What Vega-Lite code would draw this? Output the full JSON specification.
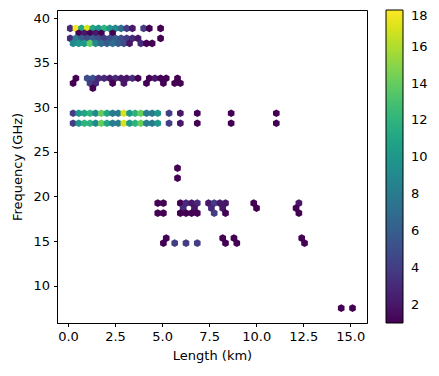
{
  "$schema": "https://vega.github.io/schema/vega-lite/v6.json",
  "autosize": {"type": "none"},
  "padding": {"left": 57, "top": 10, "right": 72, "bottom": 53},
  "width": 310,
  "height": 313,
  "config": {
    "view": {"stroke": "black", "strokeWidth": 1},
    "font": "DejaVu Sans",
    "axis": {"grid": false, "domainColor": "black", "tickColor": "black", "labelColor": "black", "titleColor": "black", "tickSize": 3.5, "labelFontSize": 13, "titleFontSize": 13, "titleFontWeight": "normal", "labelFont": "DejaVu Sans", "titleFont": "DejaVu Sans"},
    "legend": {"labelFont": "DejaVu Sans", "labelFontSize": 13, "labelColor": "black"}
  },
  "data": {"values": [
    {"x":0.12,"y":38.85,"n":3},{"x":0.42,"y":38.85,"n":18},{"x":0.72,"y":38.85,"n":11},{"x":1.02,"y":38.85,"n":17},{"x":1.32,"y":38.85,"n":11},{"x":1.62,"y":38.85,"n":10},{"x":1.92,"y":38.85,"n":12},{"x":2.22,"y":38.85,"n":10},{"x":2.52,"y":38.85,"n":9},{"x":2.82,"y":38.85,"n":7},{"x":3.12,"y":38.85,"n":4},{"x":3.42,"y":38.85,"n":2},{"x":4.02,"y":38.85,"n":4},{"x":4.32,"y":38.85,"n":1},{"x":4.92,"y":38.85,"n":1},
    {"x":0.57,"y":38.29,"n":1},{"x":0.87,"y":38.29,"n":2},{"x":1.17,"y":38.29,"n":1},{"x":1.47,"y":38.29,"n":2},{"x":1.77,"y":38.29,"n":1},{"x":2.37,"y":38.29,"n":1},
    {"x":0.12,"y":37.73,"n":3},{"x":0.42,"y":37.73,"n":8},{"x":0.72,"y":37.73,"n":6},{"x":1.02,"y":37.73,"n":5},{"x":1.32,"y":37.73,"n":6},{"x":1.62,"y":37.73,"n":5},{"x":1.92,"y":37.73,"n":4},{"x":2.22,"y":37.73,"n":5},{"x":2.52,"y":37.73,"n":6},{"x":2.82,"y":37.73,"n":5},{"x":3.12,"y":37.73,"n":4},{"x":3.42,"y":37.73,"n":3},{"x":3.72,"y":37.73,"n":2},{"x":4.92,"y":37.73,"n":1},
    {"x":0.27,"y":37.17,"n":9},{"x":0.57,"y":37.17,"n":10},{"x":0.87,"y":37.17,"n":10},{"x":1.17,"y":37.17,"n":14},{"x":1.47,"y":37.17,"n":9},{"x":1.77,"y":37.17,"n":7},{"x":2.07,"y":37.17,"n":6},{"x":2.37,"y":37.17,"n":7},{"x":2.67,"y":37.17,"n":6},{"x":2.97,"y":37.17,"n":5},{"x":3.27,"y":37.17,"n":2},{"x":3.87,"y":37.17,"n":3},{"x":4.17,"y":37.17,"n":1},{"x":4.47,"y":37.17,"n":1},
    {"x":0.42,"y":33.25,"n":1},{"x":1.02,"y":33.25,"n":5},{"x":1.32,"y":33.25,"n":5},{"x":1.62,"y":33.25,"n":3},{"x":1.92,"y":33.25,"n":3},{"x":2.22,"y":33.25,"n":2},{"x":2.52,"y":33.25,"n":3},{"x":2.82,"y":33.25,"n":2},{"x":3.12,"y":33.25,"n":2},{"x":3.42,"y":33.25,"n":3},{"x":3.72,"y":33.25,"n":1},{"x":4.32,"y":33.25,"n":1},{"x":4.62,"y":33.25,"n":2},{"x":4.92,"y":33.25,"n":1},{"x":5.22,"y":33.25,"n":1},{"x":5.82,"y":33.25,"n":1},
    {"x":0.27,"y":32.69,"n":1},{"x":1.17,"y":32.69,"n":4},{"x":1.47,"y":32.69,"n":3},{"x":2.37,"y":32.69,"n":1},{"x":2.97,"y":32.69,"n":2},{"x":4.17,"y":32.69,"n":1},{"x":5.07,"y":32.69,"n":1},{"x":5.67,"y":32.69,"n":1},{"x":5.97,"y":32.69,"n":1},
    {"x":1.32,"y":32.13,"n":1},
    {"x":0.27,"y":29.33,"n":4},{"x":0.57,"y":29.33,"n":10},{"x":0.87,"y":29.33,"n":11},{"x":1.17,"y":29.33,"n":12},{"x":1.47,"y":29.33,"n":9},{"x":1.77,"y":29.33,"n":14},{"x":2.07,"y":29.33,"n":11},{"x":2.37,"y":29.33,"n":8},{"x":2.67,"y":29.33,"n":8},{"x":2.97,"y":29.33,"n":17},{"x":3.27,"y":29.33,"n":10},{"x":3.57,"y":29.33,"n":12},{"x":3.87,"y":29.33,"n":14},{"x":4.17,"y":29.33,"n":8},{"x":4.47,"y":29.33,"n":8},{"x":4.77,"y":29.33,"n":10},{"x":5.37,"y":29.33,"n":4},{"x":5.97,"y":29.33,"n":2},{"x":6.87,"y":29.33,"n":1},{"x":8.67,"y":29.33,"n":1},{"x":11.07,"y":29.33,"n":1},
    {"x":0.27,"y":28.21,"n":4},{"x":0.57,"y":28.21,"n":10},{"x":0.87,"y":28.21,"n":12},{"x":1.17,"y":28.21,"n":12},{"x":1.47,"y":28.21,"n":9},{"x":1.77,"y":28.21,"n":14},{"x":2.07,"y":28.21,"n":11},{"x":2.37,"y":28.21,"n":8},{"x":2.67,"y":28.21,"n":8},{"x":2.97,"y":28.21,"n":17},{"x":3.27,"y":28.21,"n":10},{"x":3.57,"y":28.21,"n":12},{"x":3.87,"y":28.21,"n":14},{"x":4.17,"y":28.21,"n":8},{"x":4.47,"y":28.21,"n":8},{"x":4.77,"y":28.21,"n":10},{"x":5.37,"y":28.21,"n":4},{"x":5.97,"y":28.21,"n":2},{"x":6.87,"y":28.21,"n":1},{"x":8.67,"y":28.21,"n":1},{"x":11.07,"y":28.21,"n":1},
    {"x":5.82,"y":23.17,"n":1},{"x":5.82,"y":22.05,"n":1},
    {"x":4.77,"y":19.25,"n":1},{"x":5.07,"y":19.25,"n":1},{"x":5.97,"y":19.25,"n":1},{"x":6.27,"y":19.25,"n":3},{"x":6.57,"y":19.25,"n":2},{"x":6.87,"y":19.25,"n":3},{"x":7.47,"y":19.25,"n":2},{"x":7.77,"y":19.25,"n":4},{"x":8.07,"y":19.25,"n":2},{"x":8.37,"y":19.25,"n":2},{"x":9.87,"y":19.25,"n":1},{"x":12.27,"y":19.25,"n":2},
    {"x":6.12,"y":18.69,"n":3},{"x":6.72,"y":18.69,"n":2},{"x":7.62,"y":18.69,"n":3},{"x":8.22,"y":18.69,"n":2},{"x":10.02,"y":18.69,"n":1},{"x":12.12,"y":18.69,"n":1},
    {"x":4.77,"y":18.13,"n":1},{"x":5.07,"y":18.13,"n":1},{"x":5.97,"y":18.13,"n":1},{"x":6.27,"y":18.13,"n":1},{"x":6.57,"y":18.13,"n":1},{"x":6.87,"y":18.13,"n":1},{"x":7.77,"y":18.13,"n":4},{"x":8.37,"y":18.13,"n":1},{"x":12.27,"y":18.13,"n":1},
    {"x":5.22,"y":15.33,"n":1},{"x":8.22,"y":15.33,"n":1},{"x":8.82,"y":15.33,"n":1},{"x":12.42,"y":15.33,"n":1},
    {"x":5.07,"y":14.77,"n":1},{"x":5.67,"y":14.77,"n":4},{"x":6.27,"y":14.77,"n":4},{"x":6.87,"y":14.77,"n":4},{"x":8.37,"y":14.77,"n":1},{"x":8.97,"y":14.77,"n":1},{"x":12.57,"y":14.77,"n":1},
    {"x":14.52,"y":7.49,"n":1},{"x":15.12,"y":7.49,"n":1}
  ]},
  "mark": {"type": "point", "filled": true, "opacity": 1, "size": 100, "shape": "M0,-0.77L0.664,-0.42L0.664,0.42L0,0.77L-0.664,0.42L-0.664,-0.42Z"},
  "encoding": {
    "x": {"field": "x", "type": "quantitative", "scale": {"domain": [-0.585, 15.89], "nice": false, "zero": false}, "axis": {"values": [0, 2.5, 5, 7.5, 10, 12.5, 15], "format": ".1f", "title": "Length (km)", "labelPadding": 4, "titlePadding": 6}},
    "y": {"field": "y", "type": "quantitative", "scale": {"domain": [5.82, 40.9], "nice": false, "zero": false}, "axis": {"values": [10, 15, 20, 25, 30, 35, 40], "title": "Frequency (GHz)", "labelPadding": 4, "titlePadding": 8}},
    "color": {"field": "n", "type": "quantitative", "scale": {"scheme": "viridis", "domain": [1, 18]}, "legend": {"orient": "none", "legendX": 329, "legendY": 0, "direction": "vertical", "title": null, "gradientLength": 313, "gradientThickness": 17, "gradientStrokeColor": "black", "gradientStrokeWidth": 1, "values": [2, 4, 6, 8, 10, 12, 14, 16, 18], "labelOffset": 8}}
  }
}
